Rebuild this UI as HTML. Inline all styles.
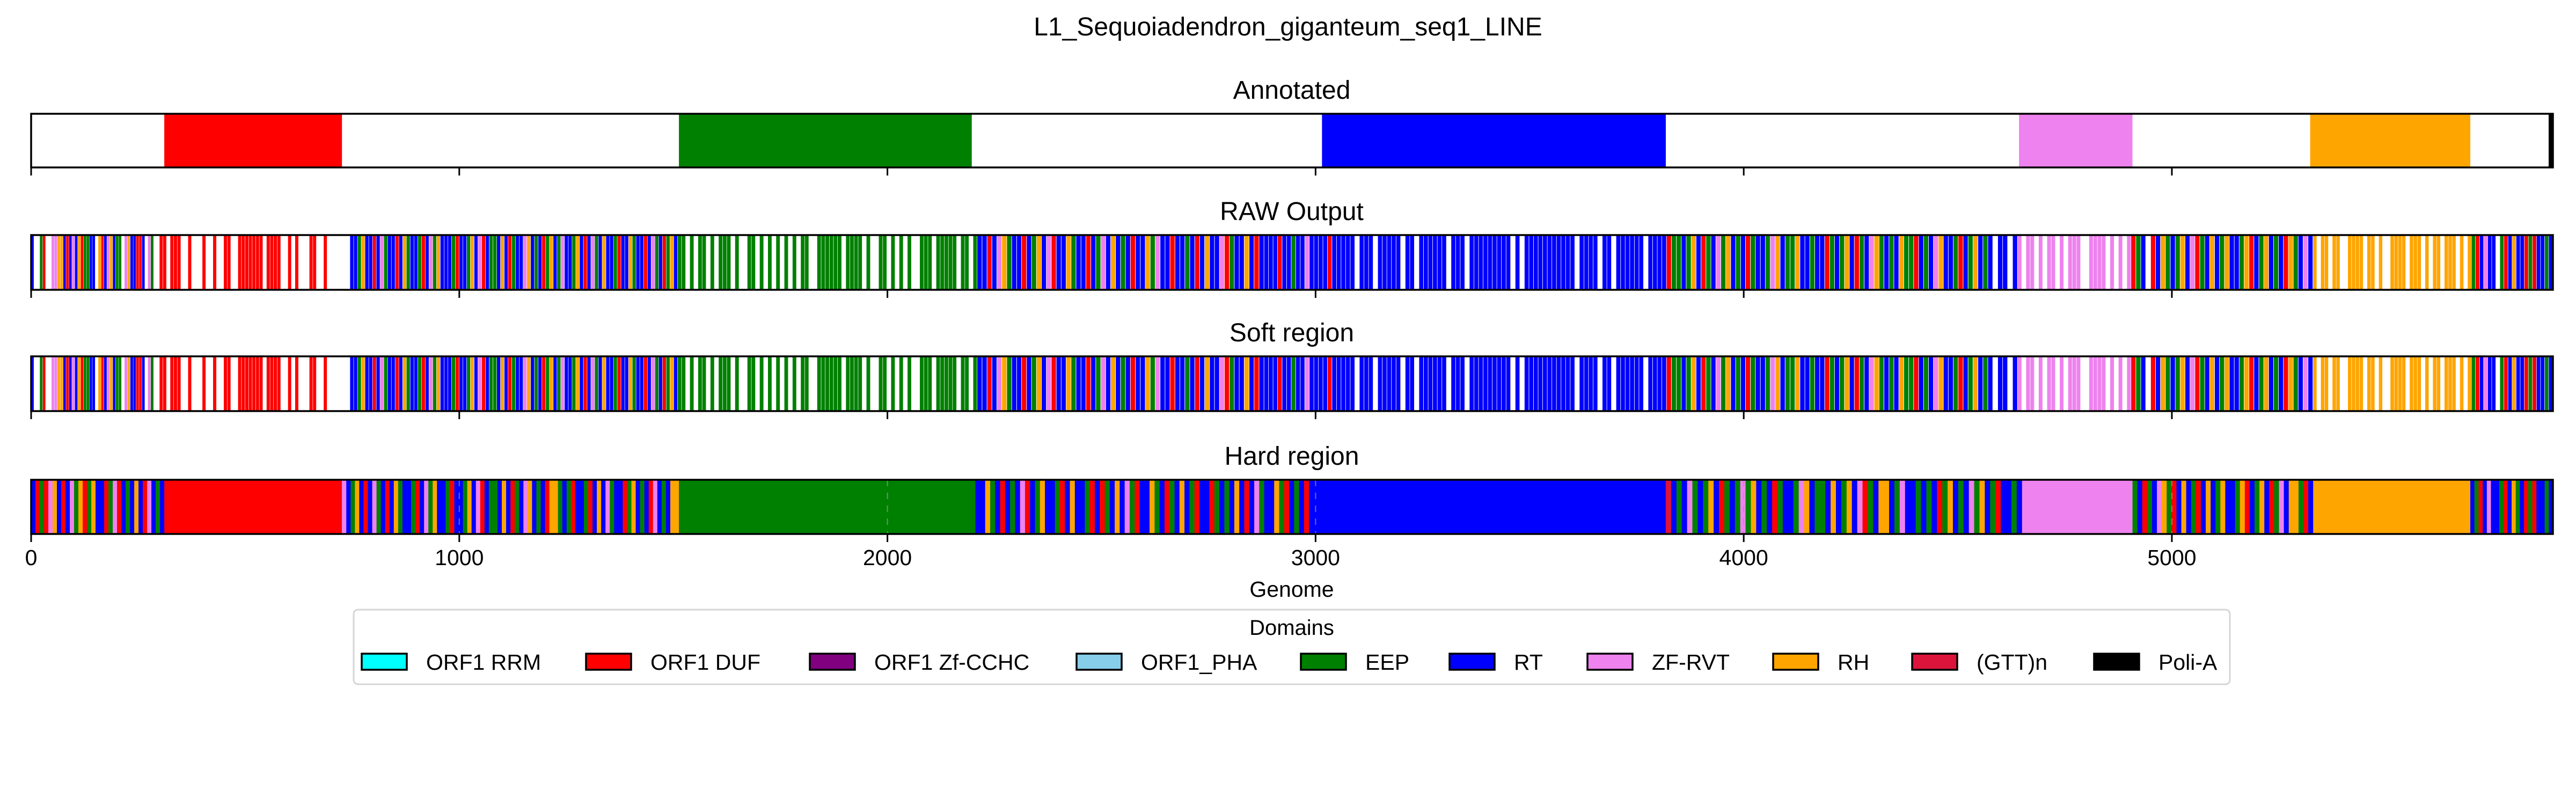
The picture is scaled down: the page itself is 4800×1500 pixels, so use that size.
<!DOCTYPE html>
<html><head><meta charset="utf-8">
<style>
html,body{margin:0;padding:0;background:#fff;}
svg{display:block;font-family:"Liberation Sans","DejaVu Sans",sans-serif;}
</style></head>
<body>
<svg id="chart" width="4800" height="1500" viewBox="0 0 4800 1500" xmlns="http://www.w3.org/2000/svg">
<rect x="0" y="0" width="4800" height="1500" fill="#fff"/>
<text x="2400" y="66" font-size="48" text-anchor="middle">L1_Sequoiadendron_giganteum_seq1_LINE</text>
<g id="tracks"></g>
<g id="legend">
<rect x="659" y="1136" width="3496" height="139" rx="8" fill="#fff" stroke="#d6d6d6" stroke-width="3"/>
<text x="2407" y="1183" font-size="40" text-anchor="middle">Domains</text>
</g>
</svg>
<script>
const domainNames = ["ORF1 RRM","ORF1 DUF","ORF1 Zf-CCHC","ORF1_PHA","EEP","RT","ZF-RVT","RH","(GTT)n","Poli-A"];
const domainCodes = ["c","R","p","l","G","B","V","O","C","K"];
const domainColors = ["#00ffff","#ff0000","#800080","#87ceeb","#008000","#0000ff","#ee82ee","#ffa500","#dc143c","#000000"];
const legendX = [674,1092,1509,2006,2424,2701,2958,3304,3563,3902];
const xTicks = [0,1000,2000,3000,4000,5000];
const genomeLen = 5890;

const annotatedSegs = [[311,726,"R"],[1513,2197,"G"],[3015,3818,"B"],[4643,4908,"V"],[5323,5697,"O"],[5880,5890,"K"]];

const rawRegions = [
 [0,300,"B..GR..VVOOBRBVBORGGBB.ORBVOBGG.VOBBRRB.VG.."],
 [300,700,"RR.RRR..R...R..R..RR..RRRRRRR.RRRR..R.R...RR..R."],
 [745,1510,"BBGOBBRBVGBBRBOGBBGRBVGOBBBGRBBGOBVRBGGBOBRGBBVOBGBRGOBGVBBGOBRBVGBOBBGRBBOGBBRBVGBRGOB"],
 [1510,2210,"GG.G.GG.G.GGG.G..GG.G.G.G.G.G.GG..GGGGGG.GGGG.G..GG.G.G.G..GGG.GGGGG.GG.G"],
 [2210,2880,"BBRBVOGBBRBGOBVRBBOGBBRBGVBOBGBRBBOGVBBRBBGBRBOBBVRGBBOBRB"],
 [2880,3060,"BBBRBBGBBVBBBBRBB"],
 [3060,3820,"BBB.BBB.BBBBB.BB.BBBBBB.BBB.BBBBBBBBB.B.BBBBBBBBBBB.BBBB.BB.BBBBBB.BBBB"],
 [3820,4640,"RGGBGOBRGBVGOBGBRGBBGVOBGGOBBGBBRGBGOBRGBVOGBGBOGGRBGBVOBBGRBGOBGB.BB.B"],
 [4640,4905,"V.VV.V.VV.V.VVV..VVVV.V.V.V"],
 [4905,5330,"RGB.RBOGBGOBVRGBOBGOBBGORBGOBGBROGBVB"],
 [5330,5700,"O.OO.OO..OOOO.OO.O..OOOO.OOO.O.OO.OOO.O.O"],
 [5700,5890,"GRBVBB.GRBOBBRGRBBGB"]
];
const softRegions = [
 [0,300,"B..GR..VVOOBRBVBORGGBB.ORBVOBGG.VOBBRRB.VG.."],
 [300,700,"RR.RRR..R...R..R..RR..RRRRRRR.RRRR..R.R...RR..R."],
 [745,1510,"BBGOBBRBVGBBRBOGBBGRBVGOBBBGRBBGOBVRBGGBOBRGBBVOBGBRGOBGVBBGOBRBVGBOBBGRBBOGBBRBVGBRGOB"],
 [1510,2210,"GG.G.GG.G.GGG.G..GG.G.G.G.G.G.GG..GGGGGG.GGGG.G..GG.G.G.G..GGG.GGGGG.GG.G"],
 [2210,2880,"BBRBVOGBBRBGOBVRBBOGBBRBGVBOBGBRBBOGVBBRBBGBRBOBBVRGBBOBRB"],
 [2880,3060,"BBBRBBGBBVBBBBRBB"],
 [3060,3820,"BBB.BBB.BBBBB.BB.BBBBBB.BBB.BBBBBBBBB.B.BBBBBBBBBBB.BBBB.BB.BBBBBB.BBBB"],
 [3820,4640,"RGGBGOBRGBVGOBGBRGBBGVOBGGOBBGBBRGBGOBRGBVOGBGBOGGRBGBVOBBGRBGOBGB.BB.B"],
 [4640,4905,"V.VV.V.VV.V.VVV..VVVV.V.V.V"],
 [4905,5330,"RGB.RBOGBGOBVRGBOBGOBBGORBGOBGBROGBVB"],
 [5330,5700,"O.OO.OO..OOOO.OO.O..OOOO.OOO.O.OO.OOO.O.O"],
 [5700,5890,"GRBVBB.GRBOBBRGRBBGB"]
];
const hardRegions = [
 [0,311,"BRGRVOBRBVGORGOBBRGVRBGBOBRVBGB"],
 [311,726,"R"],
 [726,1513,"VBGOBRBVGBRBOGBBGRBVGOBBGRBBGOBVRBGGBOBRGBVOBGBROOGBGRBBGRBOBVGBBRGOBGBRVBGBOO"],
 [1513,2205,"G"],
 [2205,3008,"BBOGBRBGBVRBGOBBGRBOBBGRBRGBOBVGRBBOGBRGBOBGRBBRGBGBOBRBVGBBOGRBGBRBB"],
 [3008,3818,"B"],
 [3818,4650,"CBGBVGBGOBRGBGVGOBGBRGBBGVOBGGBOBGOBVRGBOOBGVBBGBGBRGOBGBVGOBGRBBGB"],
 [4650,4908,"V"],
 [4908,5330,"GBRGBVOGRBOBGRBOBGOBBGORBGOBRGVBOOGRB"],
 [5330,5697,"O"],
 [5697,5890,"BGRBVBBGRBOGBRGRBBGB"]
];

const X0 = 58, X1 = 4757;
function xs(v){ return X0 + (v/genomeLen)*(X1-X0); }
const NS = "http://www.w3.org/2000/svg";
function mk(tag, attrs, parent){
  const el = document.createElementNS(NS, tag);
  for (const k in attrs) el.setAttribute(k, attrs[k]);
  parent.appendChild(el);
  return el;
}
const root = document.getElementById('tracks');
const tracks = [
  {title:"Annotated", top:212, bottom:312, segs:annotatedSegs, kind:"segs", name:"annotated", fill:1},
  {title:"RAW Output", top:438, bottom:540, regions:rawRegions, kind:"regions", name:"raw-output", fill:0.9},
  {title:"Soft region", top:664, bottom:766, regions:softRegions, kind:"regions", name:"soft-region", fill:0.9},
  {title:"Hard region", top:894, bottom:995, regions:hardRegions, kind:"regions", name:"hard-region", fill:1}
];
function colorOf(code){ return domainColors[domainCodes.indexOf(code)]; }

tracks.forEach((t, ti) => {
  const g = mk('g', {}, root);
  
  
  const tt = mk('text', {x:2407, y:t.top-28, 'font-size':48, 'text-anchor':'middle'}, g);
  tt.textContent = t.title;
  
  
  const h = t.bottom - t.top;
  if (t.kind === "segs") {
    t.segs.forEach(s => {
      const r = mk('rect', {x:xs(s[0]), y:t.top, width:Math.max(xs(s[1])-xs(s[0]),1), height:h, fill:colorOf(s[2])}, g);
      
      
    });
  } else {
    t.regions.forEach(reg => {
      const [a,b,pat] = reg;
      const w = (b-a)/pat.length;
      const solid = pat.length === 1;
      for (let i=0;i<pat.length;i++){
        const c = pat[i];
        if (c === '.') continue;
        const s = a + i*w;
        const pw = solid ? (xs(a+w)-xs(a)) : (xs(a+w)-xs(a))*t.fill + (t.fill===1?0.5:0);
        const r = mk('rect', {x:xs(s), y:t.top, width:pw, height:h, fill:colorOf(c)}, g);
        
        
      }
    });
  }
  if (ti === 3) {
    xTicks.forEach(v => {
      const l = mk('line', {x1:xs(v), x2:xs(v), y1:t.top, y2:t.bottom, stroke:'#999', 'stroke-width':2, 'stroke-dasharray':'12,12', opacity:0.7}, g);
      
      
    });
  }
  const box = mk('rect', {x:X0, y:t.top, width:X1-X0, height:h, fill:'none', stroke:'#000', 'stroke-width':3.5}, g);
  
  
  xTicks.forEach(v => {
    const tk = mk('line', {x1:xs(v), x2:xs(v), y1:t.bottom, y2:t.bottom+15, stroke:'#000', 'stroke-width':3}, g);
    
    
    if (ti === 3) {
      const lb = mk('text', {x:xs(v), y:t.bottom+58, 'font-size':41, 'text-anchor':'middle'}, g);
      lb.textContent = String(v);
      
      
    }
  });
});
const xt = mk('text', {x:2407, y:1112, 'font-size':41, 'text-anchor':'middle'}, root);
xt.textContent = "Genome";



const leg = document.getElementById('legend');
domainNames.forEach((n, i) => {
  const p = mk('rect', {x:legendX[i], y:1218, width:84, height:30, fill:domainColors[i], stroke:'#000', 'stroke-width':3.5}, leg);
  
  
  const tx = mk('text', {x:legendX[i]+120, y:1248, 'font-size':41}, leg);
  tx.textContent = n;
  
  
});
</script>
</body></html>
